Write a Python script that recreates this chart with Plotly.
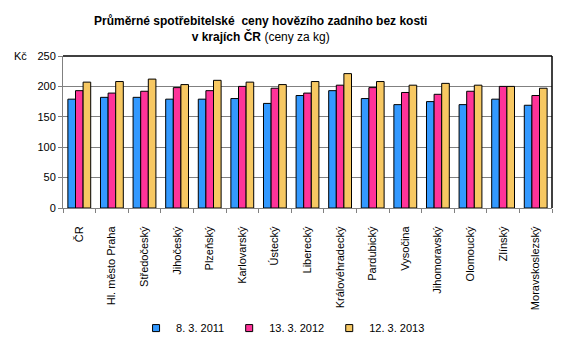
import plotly.graph_objects as go

categories = ["ČR", "Hl. město Praha", "Středočeský", "Jihočeský", "Plzeňský", "Karlovarský",
              "Ústecký", "Liberecký", "Královéhradecký", "Pardubický", "Vysočina",
              "Jihomoravský", "Olomoucký", "Zlínský", "Moravskoslezský"]
series_names = ["8. 3. 2011", "13. 3. 2012", "12. 3. 2013"]
v2011 = [179, 182, 182, 179, 179, 180, 172, 185, 193, 180, 170, 175, 170, 179, 169]
v2012 = [193, 189, 192, 198, 193, 200, 197, 189, 202, 198, 190, 187, 192, 200, 185]
v2013 = [207, 208, 212, 203, 210, 207, 203, 208, 221, 208, 202, 205, 202, 200, 197]
colors = ["#3399FF", "#FF3399", "#F7C862"]
yticks = [0, 50, 100, 150, 200, 250]

fig = go.Figure()
for name, vals, c in zip(series_names, [v2011, v2012, v2013], colors):
    fig.add_trace(go.Bar(x=categories, y=vals, name=name, showlegend=False,
                         marker=dict(color=c, line=dict(color="black", width=1))))
# legend entries with small square symbols
for name, c in zip(series_names, colors):
    fig.add_trace(go.Scatter(x=[None], y=[None], mode="markers", name=name, showlegend=True,
                             marker=dict(symbol="square", size=7, color=c, line=dict(color="black", width=1))))

font = "Liberation Sans, Arial, sans-serif"
fig.update_layout(
    width=569, height=354,
    margin=dict(l=63, r=17, t=56, b=146),
    paper_bgcolor="white", plot_bgcolor="white",
    barmode="group", bargap=0.3, bargroupgap=0,
    font=dict(family=font, size=11, color="black"),
    showlegend=True,
    legend=dict(orientation="h", x=0.45, xanchor="center", y=-0.79, yanchor="middle",
                font=dict(family=font, size=11), itemwidth=30, traceorder="normal"),
    xaxis=dict(showline=True, linecolor="#808080", ticks="outside", tickson="boundaries",
               ticklen=4, tickcolor="#808080", tickangle=-90, mirror=False,
               ticklabelstandoff=13, automargin=False,
               tickfont=dict(family=font, size=11)),
    yaxis=dict(range=[0, 250], tickvals=yticks, showgrid=True, gridcolor="#808080", gridwidth=1,
               showline=True, linecolor="#808080", ticks="outside", ticklen=4, tickcolor="#808080",
               automargin=False,
               tickfont=dict(family=font, size=11), zeroline=False),
    shapes=[
        dict(type="line", xref="paper", yref="paper", x0=0, x1=1, y0=1, y1=1, line=dict(color="black", width=1.5)),
        dict(type="line", xref="paper", yref="paper", x0=1, x1=1, y0=0, y1=1, line=dict(color="black", width=1.5)),
    ],
    annotations=[
        dict(text="<b>Průměrné spotřebitelské  ceny hovězího zadního bez kosti<br>v krajích ČR</b> (ceny za kg)",
             xref="paper", yref="paper", x=0.404, y=1.18, xanchor="center", yanchor="middle",
             showarrow=False, font=dict(family=font, size=12)),
        dict(text="Kč", xref="paper", yref="paper", x=-0.105, y=1.0, xanchor="left", yanchor="middle",
             showarrow=False, font=dict(family=font, size=11)),
    ],
)

fig.write_html("out.html")
